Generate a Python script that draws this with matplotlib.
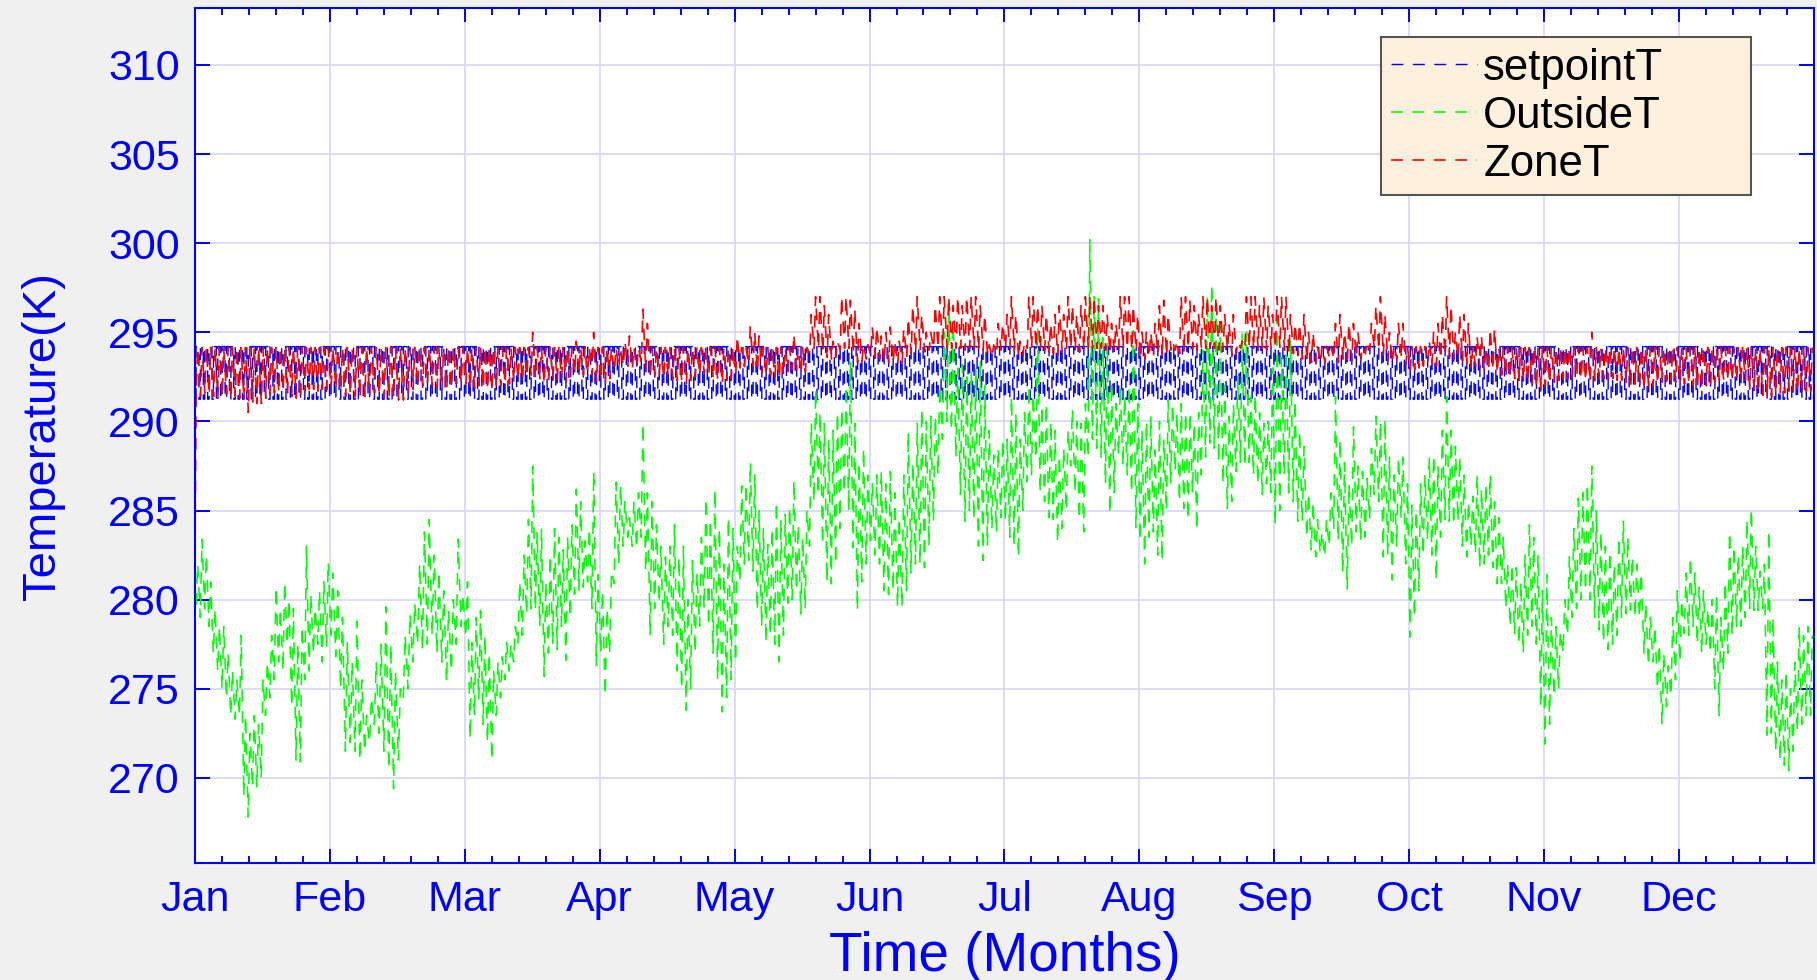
import numpy as np
import matplotlib.pyplot as plt

plt.rcParams['font.family'] = ['Liberation Sans', 'DejaVu Sans']
plt.rcParams['lines.scale_dashes'] = False

# ---- data (K): daily lows / highs, day 0 = 1 Jan ----
month_names = ["Jan", "Feb", "Mar", "Apr", "May", "Jun",
               "Jul", "Aug", "Sep", "Oct", "Nov", "Dec"]
month_starts = [0, 31, 59, 90, 120, 151, 181, 212, 243, 273, 304, 334, 365]

# setpoint schedule for one day (hour, K)
sp_hours = [0, 6, 6, 22, 22, 24]
sp_vals = [291.25, 291.25, 294.2, 294.2, 291.25, 291.25]

out_start = 281.7
out_lo = [
    279.5, 279, 279.5, 278.5, 277, 276, 275, 274.5, 273.5, 273.3,
    273.5, 269, 267.8, 269.5, 269.5, 270, 273.5, 274.5, 275.5, 276.5,
    276, 277.5, 274, 271, 270.9, 275.5, 276, 277, 277.5, 276.5,
    277.4, 278, 276.8, 275, 271.5, 272, 271.5, 271, 271.5, 272,
    273, 272.5, 271.5, 270.5, 269.4, 271, 274.4, 275, 276.5, 277.5,
    277.2, 277.5, 278, 277, 276.5, 275.4, 276, 277.5, 278.5, 277.9,
    272.2, 273.5, 274.4, 273, 272, 271, 273.5, 274.5, 275.5, 276,
    276.5, 277.5, 278, 279.2, 279.5, 279.4, 278.5, 275.7, 277, 277.5,
    277.2, 278.5, 276.6, 279, 280.3, 280.5, 280.7, 281, 279.5, 276.3,
    277, 274.6, 277, 280.9, 282, 283, 283.5, 283, 282.9, 283.5,
    281.6, 278, 279.5, 279.8, 277.5, 278.5, 278, 276, 275, 273.8,
    275, 277, 278.5, 279.5, 278.5, 277, 275.5, 273.7, 274.5, 275.5,
    276.5, 281, 282, 282.2, 281.6, 279.4, 278.5, 277.6, 278, 277.5,
    276.5, 278, 279.8, 280, 280.5, 279.2, 279.5, 283, 285.5, 285.9,
    283.1, 281, 280.9, 282, 284, 286, 285, 282.9, 279.4, 281,
    282, 283.3, 282.5, 282, 280.5, 280.3, 280.5, 279.6, 279.6, 280.5,
    281.5, 282, 282, 281.8, 283, 284.4, 287, 289, 290, 289.5,
    288, 285.9, 284.4, 285, 284.5, 283, 282.2, 283, 284, 283.8,
    284.6, 284.4, 283.5, 283, 282.4, 285, 286.6, 287, 287.9, 286,
    285.5, 284.6, 284.5, 283.2, 284, 285, 287.5, 286, 284.5, 283.8,
    288, 289, 288.5, 288, 286.5, 284.8, 286, 288.1, 287.5, 287,
    286, 284, 283.3, 282, 283.5, 283.8, 282.5, 282.2, 285, 286.5,
    287.2, 285.5, 285.1, 284.5, 286, 283.9, 287, 288, 288.8, 288.5,
    287.7, 286.5, 285.1, 285.5, 287.2, 287.7, 287.5, 287.7, 287, 286.5,
    285.9, 286.5, 286, 284.2, 285, 287, 286, 285.5, 284.4, 284.4,
    283.5, 282.8, 282.4, 282.6, 282.4, 283, 284, 283.3, 281.5, 280.6,
    283, 283.8, 283.3, 283.5, 284.5, 285.9, 285.5, 282.4, 282.5, 281.1,
    283, 284.6, 282, 277.9, 279, 280.5, 282.5, 283.3, 282.5, 281.1,
    283.5, 284.5, 284.4, 284.2, 284.4, 283, 282.4, 283, 282.6, 281.8,
    282, 282.5, 281.8, 280.9, 280.9, 279.5, 278.5, 278.1, 277.5, 277,
    278, 278.5, 277.5, 274, 271.9, 273, 274.6, 275, 277, 278,
    279, 279.5, 280, 280.5, 280, 279, 278.3, 277.6, 277.2, 277.5,
    278, 279, 279.2, 279.4, 279, 279, 277, 276.3, 276.5, 275,
    273, 274, 274.6, 275.5, 276.5, 278.1, 278, 278.5, 277.5, 277,
    277.5, 277, 275, 273.5, 276, 277, 278, 278.5, 278.5, 279,
    279.5, 279.4, 279.4, 279.5, 272.4, 272.5, 271.5, 271, 270.7, 270.4,
    271.5, 272.6, 273, 273.5, 273.5,
]
out_hi = [
    282, 283.4, 282.5, 281, 279.5, 278.5, 278.5, 277, 276, 275.5,
    278, 273.5, 272.5, 273.5, 273, 275.5, 276.5, 278, 280.7, 279.5,
    281, 280, 279.5, 277.5, 278.5, 283, 280.3, 279.5, 280.5, 281,
    282.1, 281.5, 280.5, 279, 277.6, 276.5, 278.8, 275.5, 273.5, 274.5,
    276.5, 277.5, 279.6, 277.5, 276, 275, 278, 279.2, 279.8, 282,
    283.8, 284.5, 282.5, 281.6, 280.5, 279.4, 280, 283.4, 280.3, 281,
    277.6, 279, 279.4, 278, 277, 276, 276.5, 276.8, 277.6, 277.5,
    278.5, 281, 282.5, 284.5, 287.5, 283.8, 284, 281, 282.5, 284,
    283.5, 282.8, 283.5, 284.2, 286.2, 285.5, 283.3, 284, 287.2, 281.4,
    280.5, 279.5, 281.6, 286.6, 286.4, 285.5, 284.6, 285.5, 286, 289.9,
    286, 285.5, 284.2, 283, 282.4, 283, 284.2, 282.4, 283, 280,
    282.2, 281.5, 283.5, 285.7, 284.5, 286.2, 284, 282, 284.6, 284,
    283, 286.4, 286.5, 287.7, 287, 285, 284, 283.1, 284, 285.5,
    284.5, 284.8, 285.2, 286.7, 284.2, 283.5, 285, 289.9, 291.8, 290.5,
    289.9, 289, 289.5, 290.5, 290.7, 292, 293.4, 289.9, 287.7, 288.5,
    287, 286.5, 287, 287.2, 286.5, 287.2, 286, 284.6, 287, 289.4,
    287.7, 289.9, 290.7, 290, 290.3, 290.3, 292, 295, 296.5, 295.5,
    293, 293.2, 292.5, 292.8, 293, 293.4, 292, 289.5, 288.1, 288.5,
    289, 289, 291.4, 290.5, 289, 290.5, 292, 291.5, 295.3, 290.9,
    291, 290, 289.5, 288.1, 288.5, 289.5, 290.7, 290, 289.9, 291,
    300.2, 297, 296.9, 294.7, 294.5, 292.2, 291, 292, 291.4, 292,
    295.1, 291, 289.5, 290, 290.3, 288.4, 290, 289, 291.2, 291,
    290.5, 291, 290.5, 290.5, 289.9, 290.5, 294, 297, 297.7, 296,
    295.5, 292, 290.3, 291, 292.5, 295, 295, 291.4, 291.5, 290.5,
    289.9, 290, 293, 295.8, 293.6, 294, 294.5, 291.2, 289.5, 288.6,
    286, 285.5, 284.5, 283.8, 284.5, 286, 291.4, 289, 287.7, 286.5,
    289.7, 287.5, 287.2, 286.8, 288.5, 290.3, 290, 290.1, 288, 287,
    288, 288, 286.5, 285.3, 285, 286.5, 287, 288, 288.1, 287.5,
    289.5, 291.4, 289.5, 288.6, 288, 287, 285.5, 285.8, 287, 286.2,
    286.5, 287, 285.5, 284.6, 283.5, 282, 282, 281.8, 281, 282.5,
    284.2, 283.5, 282.5, 280.5, 281.4, 279, 278.5, 278.2, 280, 282.4,
    284, 285.7, 286, 286.5, 287.5, 285, 283.8, 283, 282.7, 282,
    283.5, 284.4, 283.5, 282.4, 282, 281.5, 279.8, 279, 278.5, 277.5,
    277, 276.3, 279, 280.5, 280, 281.5, 282.4, 281.5, 280.7, 280.5,
    279.5, 280, 280.3, 279, 281, 283.8, 283, 282.5, 283, 284.5,
    285.1, 283, 281.6, 282, 283.9, 279, 276.5, 275.5, 276, 275,
    276.5, 278.5, 278, 278.5, 278,
]

zone_start = 282.4
zone_lo = (
    [291.5, 291.4, 291.6, 291.5, 291.4, 291.3, 291.4, 291.5, 291.3, 291.4,
     291.3, 291.2, 290.5, 291.1, 291.0, 291.0, 291.3, 291.5, 291.6, 291.6,
     291.7, 291.6, 291.4, 291.3, 291.3, 291.7, 291.8, 291.8, 291.7, 291.8,
     291.8, 291.9, 291.8, 291.7, 291.4, 291.5, 291.4, 291.3, 291.4, 291.5,
     291.6, 291.5, 291.4, 291.3, 291.3, 291.2, 291.2, 291.6, 291.8, 292.0,
     292.0, 292.1, 292.0, 291.9, 291.8, 291.8, 291.9, 292.1, 292.2, 292.1]
    + [291.8, 291.9, 292.0, 291.9, 291.8, 291.7, 291.9, 292.0, 292.1, 292.1,
       292.2, 292.3, 292.3, 292.5, 292.6, 292.4, 292.4, 292.1, 292.3, 292.4,
       292.3, 292.4, 292.2, 292.5, 292.7, 292.7, 292.6, 292.7, 292.6, 292.2,
       292.3, 292.1, 292.4, 292.8, 293.0, 293.1, 293.1, 293.0, 293.0, 293.3,
       292.8, 292.5, 292.6, 292.6, 292.4, 292.5, 292.4, 292.3, 292.2, 292.1,
       292.3, 292.5, 292.6, 292.7, 292.6, 292.4, 292.3, 292.1, 292.3, 292.4]
    + [292.6, 293.0, 293.1, 293.2, 293.1, 292.8, 292.7, 292.6, 292.6, 292.5,
       292.4, 292.6, 292.8, 292.9, 292.9, 292.7, 292.8, 293.8, 294.1, 294.1,
       293.9, 293.6, 293.5, 293.6, 294.0, 294.1, 294.1, 293.8, 293.3, 293.4,
       293.5, 293.7, 293.6, 293.5, 293.3, 293.3, 293.3, 293.2, 293.3, 293.6,
       293.8, 293.9, 294.0, 293.9, 294.0, 294.1, 294.1, 294.1, 294.1, 294.1,
       294.1, 294.1, 294.0, 294.1, 294.1, 294.0, 294.0, 293.7, 293.6, 293.8]
    + [294.0, 294.1, 294.1, 294.0, 293.6, 293.7, 294.1, 294.1, 294.1, 294.0,
       294.0, 293.9, 293.8, 293.7, 293.9, 294.0, 294.1, 294.0, 293.9, 294.0,
       294.1, 294.1, 294.1, 294.1, 294.0, 293.8, 293.9, 294.1, 294.1, 294.1,
       294.0, 293.9, 293.5, 293.5, 293.6, 293.7, 293.8, 293.6, 293.7, 294.0,
       294.0, 293.8, 293.8, 294.1, 294.1, 294.0, 294.1, 294.1, 294.1, 294.1,
       294.0, 294.0, 294.0, 293.7, 293.8, 294.1, 294.1, 294.1, 294.0, 294.1]
    + [294.1, 294.0, 294.1, 294.1, 294.1, 294.0, 293.8, 293.8, 293.7, 293.5,
       293.4, 293.3, 293.3, 293.3, 293.3, 293.6, 293.5, 293.3, 293.5, 293.5,
       293.4, 293.6, 293.5, 293.8, 294.0, 294.1, 294.0, 293.7, 293.4, 293.3,
       293.5, 293.6, 293.2, 292.9, 292.9, 293.0, 293.1, 293.3, 293.2, 293.1,
       293.5, 293.7, 293.6, 293.5, 293.5, 293.4, 293.2, 293.0, 293.1, 293.0,
       292.8, 292.9, 292.9, 292.7, 292.6, 292.5, 292.5, 292.4, 292.3, 292.3]
    + [292.2, 292.1, 291.9, 291.8, 292.0, 292.1, 292.2, 292.3, 292.4, 292.4,
       292.5, 292.5, 292.4, 292.3, 292.2, 292.3, 292.4, 292.4, 292.4, 292.4,
       292.3, 292.3, 292.2, 292.0, 292.1, 292.0, 291.8, 291.9, 292.0, 292.1,
       292.2, 292.3, 292.3, 292.2, 292.1, 292.1, 292.1, 292.0, 291.9, 291.8,
       292.0, 292.1, 292.2, 292.3, 292.3, 292.3, 292.3, 292.3, 292.3, 292.3,
       291.8, 291.7, 291.6, 291.5, 291.4, 291.4, 291.5, 291.6, 291.6, 291.7,
       291.7, 291.6, 291.6, 291.7, 291.7]
)
zone_hi = (
    [294.15] * 74
    + [295.0] + [294.15] * 9 + [294.5] + [294.15] * 3 + [295.0]
    + [294.15] * 6 + [294.5, 294.8, 294.15, 294.15, 296.3, 295.5]
    + [294.15] * 19
    + [294.8, 294.15, 294.15, 295.3, 295.0, 294.8]
    + [294.15] * 7 + [294.9] + [294.15] * 3
    + [296.0, 297.0, 297.0, 296.5, 296.0, 294.5, 294.5,
       297.0, 297.0, 296.8, 296.3, 295.5, 294.3, 294.3,
       295.3, 295.3, 294.8, 295.0, 295.3, 294.5, 294.5,
       295.2, 295.8, 296.5, 297.0, 296.0, 295.0, 295.0,
       296.5, 297.0, 297.0, 297.0, 296.5, 297.0, 296.5,
       297.0, 297.0, 297.0, 296.5, 296.0, 294.3, 294.3,
       295.5, 295.5, 296.0, 297.0, 296.0, 294.5, 294.5,
       297.0, 297.0, 296.5, 296.5, 296.0, 295.5, 296.0,
       296.5, 296.0, 297.0, 296.5, 296.0, 296.5, 297.0,
       297.0, 297.0, 296.5, 296.5, 296.0, 295.5, 295.5,
       297.0, 297.0, 297.0, 296.5, 296.0, 295.0, 295.0,
       295.0, 295.5, 296.5, 296.8, 296.0, 294.5, 294.5,
       297.0, 297.0, 296.8, 296.5, 296.0, 297.0, 297.0,
       296.5, 297.0, 296.5, 296.0, 295.5, 296.0, 294.5,
       294.5, 297.0, 297.0, 297.0, 296.5, 297.0, 296.5,
       296.0, 297.0, 297.0, 297.0, 296.0, 295.5, 295.5,
       296.0, 295.0, 295.0, 294.2, 294.2, 294.2, 294.2,
       295.5, 296.0, 295.0, 295.5, 295.5, 295.0, 294.2,
       294.5, 295.5, 296.5, 297.0, 296.0, 295.0, 294.3,
       295.5, 295.5, 294.2, 294.2, 294.2, 294.2, 294.2,
       294.5, 295.0, 295.5, 296.0, 297.0, 296.5, 295.0,
       296.0, 296.0, 295.5, 294.2, 294.8, 294.8, 294.2,
       295.2, 295.2]
    + [294.15] * 21 + [295.0] + [294.15] * 50
)

# ---- build time series; x axis is in months (12 equal divisions) ----
days = np.arange(365)
t_out = np.concatenate([[0.0], np.column_stack([days + 0.22, days + 0.62]).ravel()])
y_out = np.concatenate([[out_start], np.column_stack([out_lo, out_hi]).ravel()])
t_zone = np.concatenate([[0.0], np.column_stack([days + 0.27, days + 0.6]).ravel()])
y_zone = np.concatenate([[zone_start], np.column_stack([zone_lo, zone_hi]).ravel()])
t_sp = (days[:, None] + np.array(sp_hours)[None, :] / 24.0).ravel()
y_sp = np.tile(sp_vals, 365)


def to_month(t):
    return np.interp(t, month_starts, np.arange(13))


# ---- figure ----
fig = plt.figure(figsize=(18.17, 9.8), dpi=100, facecolor="#F0F0F0")
ax = fig.add_axes([0.1073, 0.1189, 0.8910, 0.8730])
ax.set_facecolor("white")

dash = (0, (8.6, 6.8))
ax.plot(to_month(t_sp), y_sp, color="#0000FF", lw=1.0, linestyle=dash, label="setpointT")
ax.plot(to_month(t_out), y_out, color="#00FF00", lw=1.15, linestyle=dash, label="OutsideT")
ax.plot(to_month(t_zone), y_zone, color="#FF0000", lw=1.2, linestyle=dash, label="ZoneT")

ax.set_xlim(0, 12)
ax.set_ylim(265.2, 313.2)

ax.set_xticks(np.arange(12))
ax.set_xticklabels(month_names)
ax.set_xticks(np.arange(0, 12, 0.2), minor=True)
ax.set_yticks(np.arange(270, 311, 5))

ax.set_axisbelow(True)
ax.grid(True, which="major", color="#D6D6FA", lw=1.2)

ax.tick_params(axis="both", which="both", direction="in", top=True, right=True,
               colors="blue", labelsize=31, width=1.4)
ax.tick_params(axis="x", which="major", length=10, pad=12)
ax.tick_params(axis="x", which="minor", length=5)
ax.tick_params(axis="y", which="major", length=11, pad=11)
for sp in ax.spines.values():
    sp.set_color("blue")
    sp.set_linewidth(1.5)

ax.set_xlabel("Time (Months)", fontsize=39.5, color="blue")
ax.xaxis.set_label_coords(0.5, -0.079)
ax.set_ylabel("Temperature(K)", fontsize=34, color="blue")
ax.yaxis.set_label_coords(-0.080, 0.5)

leg = ax.legend(loc="upper left", bbox_to_anchor=(0.7325, 0.788, 0.2285, 0.178),
                mode="expand", borderaxespad=0, fontsize=31.5, handlelength=1.95,
                handletextpad=0.15, borderpad=0.24, labelspacing=0.16,
                fancybox=False, facecolor="#FDF0DD", edgecolor="#555555",
                framealpha=1)
leg.get_frame().set_linewidth(1.5)

fig.savefig("out.png", dpi=100, facecolor=fig.get_facecolor())
